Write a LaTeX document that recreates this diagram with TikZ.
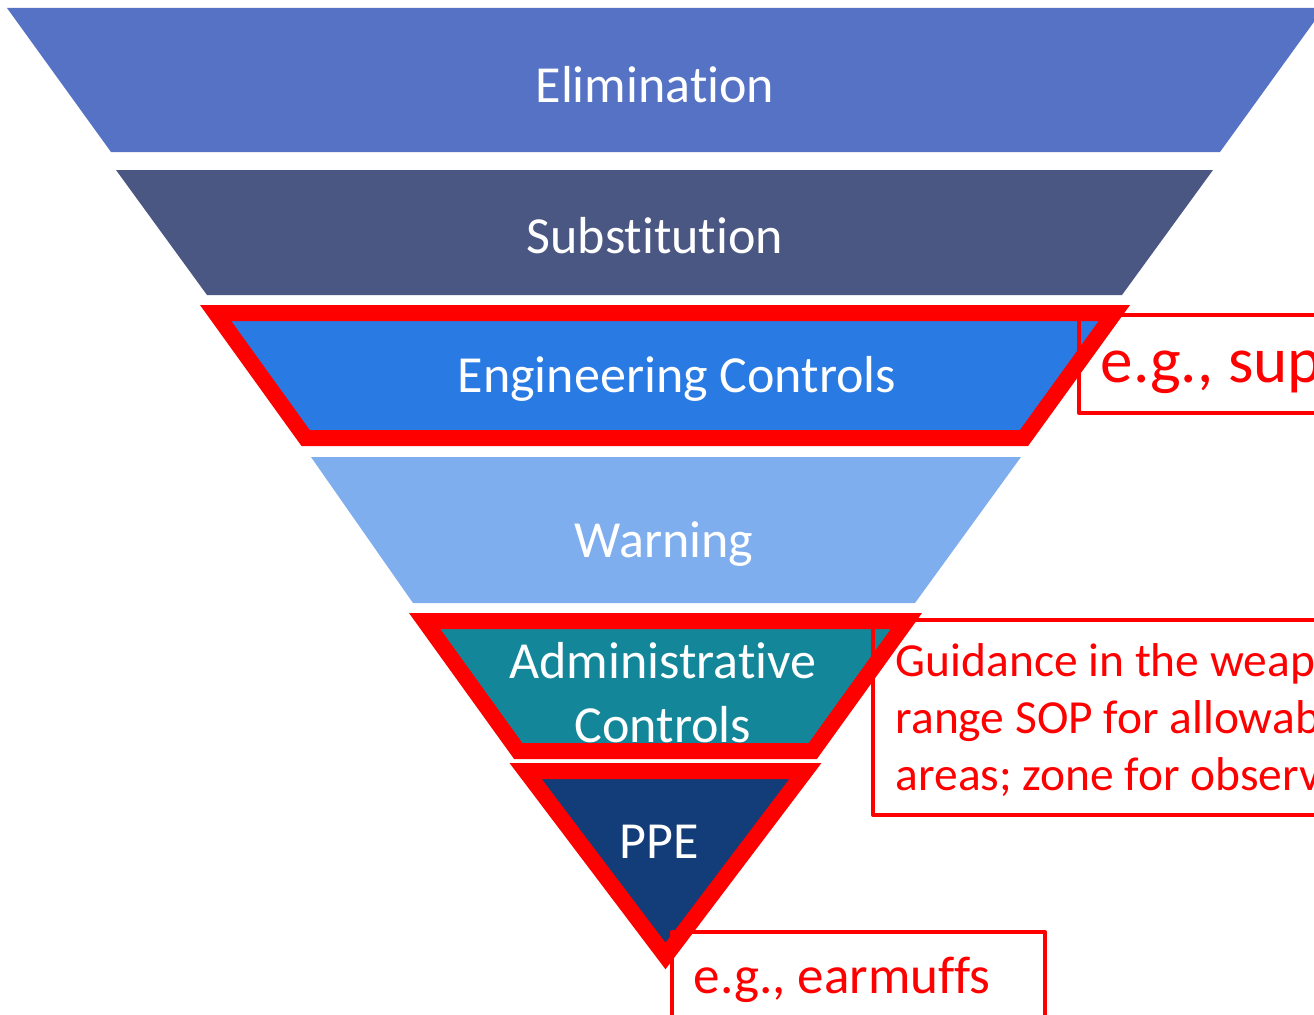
\documentclass[tikz,border=0pt]{standalone}
\usepackage{fontspec}
\setmainfont{Carlito}[Ligatures=CommonOff]
\usetikzlibrary{positioning}

\definecolor{elimblue}{HTML}{5572C4}
\definecolor{subsblue}{HTML}{4A5782}
\definecolor{engblue}{HTML}{2A7AE4}
\definecolor{warnblue}{HTML}{7FAEEE}
\definecolor{adminteal}{HTML}{138799}
\definecolor{ppeblue}{HTML}{133D78}
\definecolor{hilite}{HTML}{FF0000}

\begin{document}
\begin{tikzpicture}[x=0.01cm, y=-0.01cm,
	level/.style={text=white, font=\fontsize{14.8}{18.2}\selectfont, anchor=base, inner sep=0pt},
	ring/.style={draw=hilite, line width=4.55pt},
	note/.style={draw=hilite, line width=1.14pt, line join=round},
	notetext/.style={text=hilite, anchor=base west, inner sep=0pt}]
	\clip (0,0) rectangle (1314,1015);

	% the funnel, widest control on top
	\fill[elimblue] (7,8) -- (1324,8) -- (1220,152) -- (111,152) -- cycle;
	\fill[subsblue] (116,170) -- (1213,170) -- (1122,295) -- (207,295) -- cycle;
	\path[fill=engblue] (215.6,313) -- (1114.4,313) -- (1024,438) -- (305.6,438) -- cycle;
	\fill[warnblue] (311,457) -- (1021,457) -- (915,603) -- (413,603) -- cycle;
	\path[fill=adminteal] (424.6,621) -- (906.4,621) -- (812.8,751) -- (518.2,751) -- cycle;
	\path[fill=ppeblue] (525.6,771) -- (805.4,771) -- (665.5,956) -- cycle;

	% callout boxes
	\draw[note] (1079,315) rectangle (1420,413);
	\draw[note] (873,620) rectangle (1420,815);
	\draw[note] (672,932) rectangle (1045,1030);

	% highlighted levels
	\draw[ring] (215.6,313) -- (1114.4,313) -- (1024,438) -- (305.6,438) -- cycle;
	\draw[ring] (424.6,621) -- (906.4,621) -- (812.8,751) -- (518.2,751) -- cycle;
	\draw[ring] (525.6,771) -- (805.4,771) -- (665.5,956) -- cycle;

	\node[level] (elim) at (655,102) {Elimination};
	\node[level] (subs) at (655,253) {Substitution};
	\node[level] (eng) at (677,392) {Engineering Controls};
	\node[level] (warn) at (664,557) {Warning};
	% base of a two-line node sits on its last line
	\node[level, align=center] (admin) at (663,742) {Administrative\\Controls};
	\node[level] (ppe) at (659,858) {PPE};

	\node[notetext, font=\fontsize{18.5}{22}\selectfont] (engnote) at (1100,383) {e.g., sup};
	\node[notetext, font=\fontsize{13.5}{16.2}\selectfont, align=left] (adminnote) at (895,790)
		{Guidance in the weap\\range SOP for allowab\\areas; zone for observ};
	\node[notetext, font=\fontsize{15.1}{18}\selectfont] (ppenote) at (693,993) {e.g., earmuffs};
\end{tikzpicture}
\end{document}
